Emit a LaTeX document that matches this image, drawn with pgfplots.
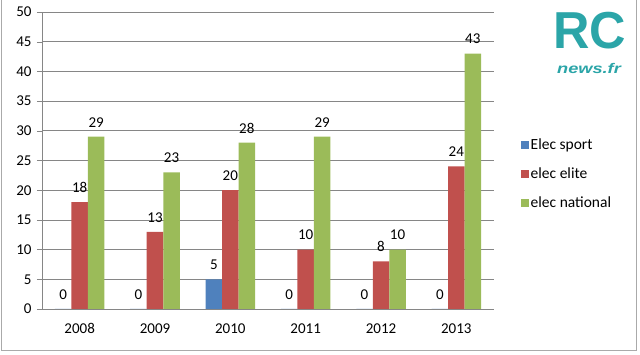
\documentclass[border=0pt]{standalone}
\usepackage{pgfplots}
\pgfplotsset{compat=1.18}
\usepackage{fontspec}
\setmainfont{Carlito}
\newfontfamily\logofont{Liberation Sans}
\definecolor{cblue}{HTML}{4F81BD}
\definecolor{cred}{HTML}{C0504D}
\definecolor{cgreen}{HTML}{9BBB59}
\definecolor{cgrid}{HTML}{868686}
\definecolor{teal1}{HTML}{2BA5A8}
\begin{document}
\begin{tikzpicture}[x=1pt,y=1pt]
\path[use as bounding box] (0,0) rectangle (640,355);
\draw[cgrid!70,line width=1.2pt] (1.5,4.5) rectangle (636.5,360);
% logo
\node[font=\logofont\bfseries\fontsize{52}{52}\selectfont, text=teal1, inner sep=0pt, xscale=0.97, anchor=base] at (590,306) {RC};
\node[font=\logofont\bfseries\itshape\fontsize{14}{14}\selectfont, text=teal1, inner sep=0pt, xscale=1.3, anchor=base] at (589,281.5) {news.fr};
\begin{axis}[
  scale only axis, width=452pt, height=297pt,
  at={(42pt,46pt)}, anchor=south west,
  xmin=-0.5, xmax=5.5, ymin=0, ymax=50,
  ytick={0,5,...,50},
  xtick={0,...,5}, xticklabels={2008,2009,2010,2011,2012,2013},
  major x tick style={draw=none},
  extra x ticks={-0.5,0.5,...,5.5}, extra x tick labels={},
  extra x tick style={major tick length=5pt, tick align=outside, tick style={cgrid}},
  ytick style={cgrid}, major tick length=5pt, tick align=outside,
  axis x line*=bottom, axis y line*=left,
  axis line style={cgrid,-},
  ymajorgrids, grid style={cgrid, line width=0.6pt},
  /pgf/number format/assume math mode=true,
  tick label style={font=\fontsize{15}{15}\selectfont},
  xticklabel style={yshift=-6pt},
  yticklabel style={xshift=-2pt},
  ybar=0pt, bar width=16.5pt,
  nodes near coords,
  every node near coord/.append style={font=\fontsize{15}{15}\selectfont, text=black, yshift=6pt},
  legend style={draw=none, fill=none, at={(1.052,0.588)}, anchor=north west,
    font=\fontsize{15.5}{15.5}\selectfont, row sep=13pt, cells={anchor=west}},
  legend image code/.code={\fill[#1] (0pt,-4pt) rectangle (8pt,4pt);},
]
\addplot[fill=cblue, draw=none] coordinates {(0,0) (1,0) (2,5) (3,0) (4,0) (5,0)};
\addplot[fill=cred, draw=none] coordinates {(0,18) (1,13) (2,20) (3,10) (4,8) (5,24)};
\addplot[fill=cgreen, draw=none] coordinates {(0,29) (1,23) (2,28) (3,29) (4,10) (5,43)};
\legend{Elec sport, elec elite, elec national}
\end{axis}
\end{tikzpicture}
\end{document}
